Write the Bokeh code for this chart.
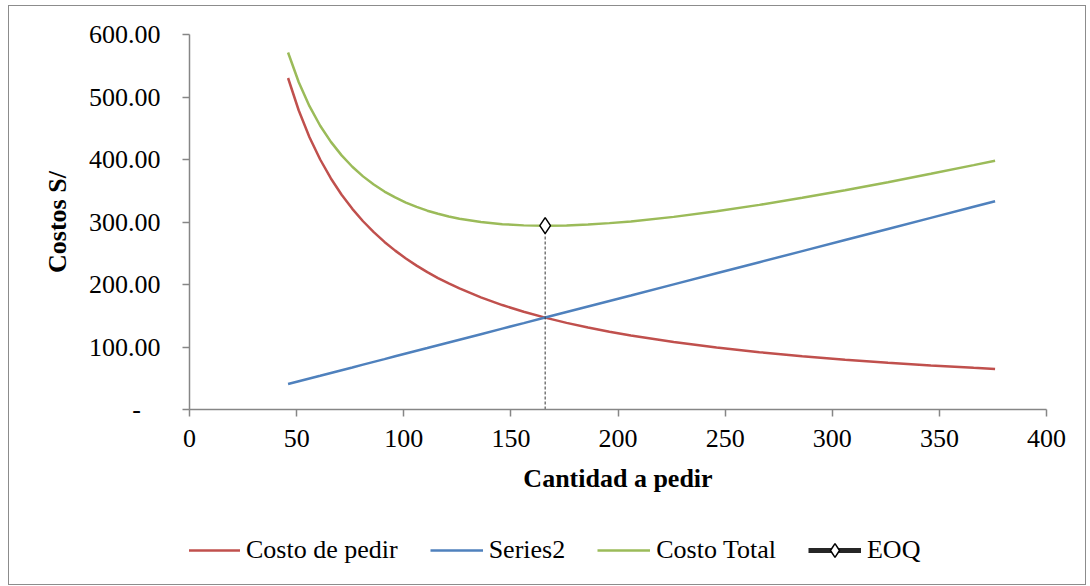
from bokeh.plotting import figure
from bokeh.embed import file_html
from bokeh.resources import INLINE
from bokeh.layouts import column
from bokeh.models import (ColumnDataSource, Legend, LegendItem, SingleIntervalTicker,
                          CustomJSTickFormatter, Range1d)

# ---- data ----
cantidad = [46, 51, 56, 61, 66, 71, 76, 81, 86, 91, 96, 101, 106, 111, 116, 121, 126,
            136, 146, 156, 166, 176, 186, 196, 206, 226, 246, 266, 286, 306, 326, 346,
            366, 376]
costo_pedir = [530.4, 478.4, 435.7, 400.0, 369.7, 343.7, 321.1, 301.2, 283.7, 268.1,
               254.2, 241.6, 230.2, 219.8, 210.3, 201.7, 193.7,
               179.4, 167.1, 156.4, 147.0, 138.6, 131.2, 124.5, 118.4, 108.0, 99.2,
               91.7, 85.3, 79.7, 74.8, 70.5, 66.7, 64.9]
series2 = [40.8, 45.2, 49.6, 54.0, 58.5, 62.9, 67.3, 71.8, 76.2, 80.6, 85.1, 89.5, 93.9,
           98.3, 102.8, 107.2, 111.6,
           120.5, 129.4, 138.2, 147.1, 155.9, 164.8, 173.7, 182.5, 200.2, 218.0, 235.7,
           253.4, 271.1, 288.8, 306.6, 324.3, 333.1]
costo_total = [571.2, 523.6, 485.3, 454.0, 428.2, 406.6, 388.4, 373.0, 359.9, 348.7,
               339.3, 331.1, 324.1, 318.1, 313.1, 308.9, 305.3,
               299.9, 296.5, 294.6, 294.1, 294.5, 296.0, 298.2, 300.9, 308.2, 317.2,
               327.4, 338.7, 350.8, 363.6, 377.1, 391.0, 398.0]
eoq_x = [166]
eoq_y = [294.1]
series_names = ["Costo de pedir", "Series2", "Costo Total", "EOQ"]
series_colors = ["#C0504D", "#4F81BD", "#9BBB59", "#262626"]

FONT = "Liberation Serif"
AXIS_COL = "#868686"

# ---------------- main chart ----------------
p = figure(width=1076, height=500, output_backend="svg", toolbar_location=None,
           x_range=Range1d(0, 400), y_range=Range1d(0, 600),
           min_border_left=180, min_border_top=28, min_border_right=39, min_border_bottom=97)
p.outline_line_color = None
p.xgrid.visible = False
p.ygrid.visible = False
p.background_fill_color = "white"
p.border_fill_color = "white"

src = ColumnDataSource(dict(x=cantidad, pedir=costo_pedir, s2=series2, total=costo_total))
p.line("x", "pedir", source=src, line_color=series_colors[0], line_width=2.5)
p.line("x", "s2", source=src, line_color=series_colors[1], line_width=2.5)
p.line("x", "total", source=src, line_color=series_colors[2], line_width=2.5)

eoq_src = ColumnDataSource(dict(x=eoq_x, y=eoq_y, y0=[0] * len(eoq_x)))
p.segment(x0="x", y0="y0", x1="x", y1="y", source=eoq_src, line_color="#333333",
          line_width=1, line_dash="3 2")
p.scatter("x", "y", source=eoq_src, marker="diamond", size=16,
          fill_color="white", line_color="black", line_width=1.5)

for ax in (p.xaxis[0], p.yaxis[0]):
    ax.axis_line_color = AXIS_COL
    ax.axis_line_width = 1.5
    ax.major_tick_line_color = AXIS_COL
    ax.major_tick_line_width = 1.5
    ax.major_tick_out = 7
    ax.major_tick_in = 0
    ax.minor_tick_line_color = None
    ax.major_label_text_font = FONT
    ax.major_label_text_font_size = "26px"
    ax.major_label_text_color = "black"
    ax.axis_label_text_font = FONT
    ax.axis_label_text_font_size = "26px"
    ax.axis_label_text_font_style = "bold"
    ax.axis_label_text_color = "black"

p.xaxis.ticker = SingleIntervalTicker(interval=50)
p.yaxis.ticker = SingleIntervalTicker(interval=100)
p.yaxis.formatter = CustomJSTickFormatter(
    code="return tick == 0 ? '-\u00a0\u00a0\u00a0' : tick.toFixed(2);")
p.xaxis.axis_label = "Cantidad a pedir"
p.yaxis.axis_label = "Costos S/"
p.xaxis.major_label_standoff = 13
p.xaxis.axis_label_standoff = 14
p.yaxis.major_label_standoff = 22
p.yaxis.axis_label_standoff = 14

# ---------------- legend strip ----------------
lg = figure(width=1076, height=78, output_backend="svg", toolbar_location=None,
            x_range=Range1d(0, 1), y_range=Range1d(0, 1),
            x_axis_location=None, y_axis_location=None,
            min_border_left=0, min_border_right=0, min_border_top=0, min_border_bottom=0)
lg.outline_line_color = None
lg.xgrid.visible = False
lg.ygrid.visible = False
lg.background_fill_color = "white"
lg.border_fill_color = "white"

# legend swatches: same styles, data placed outside the strip's visible range
off = ColumnDataSource(dict(x=[5, 6], y=[5, 6]))
r0 = lg.line("x", "y", source=off, line_color=series_colors[0], line_width=2.5)
r1 = lg.line("x", "y", source=off, line_color=series_colors[1], line_width=2.5)
r2 = lg.line("x", "y", source=off, line_color=series_colors[2], line_width=2.5)
r3 = lg.line("x", "y", source=off, line_color=series_colors[3], line_width=5)
r3m = lg.scatter("x", "y", source=off, marker="diamond", size=16,
                 fill_color="white", line_color="black", line_width=1.5)

legend = Legend(items=[
    LegendItem(label=series_names[0], renderers=[r0]),
    LegendItem(label=series_names[1], renderers=[r1]),
    LegendItem(label=series_names[2], renderers=[r2]),
    LegendItem(label=series_names[3], renderers=[r3, r3m]),
], orientation="horizontal", location=(-2, 17))
legend.label_text_font = FONT
legend.label_text_font_size = "26px"
legend.label_text_color = "black"
legend.glyph_width = 53
legend.glyph_height = 34
legend.label_standoff = 6
legend.spacing = 32
legend.padding = 0
legend.margin = 0
legend.border_line_color = None
legend.background_fill_alpha = 0
lg.add_layout(legend, "center")

layout = column(p, lg, spacing=0)
layout.styles = {"margin-left": "8px", "margin-top": "5px", "border": "1px solid #8c8c8c"}

open("out.html", "w").write(file_html(layout, INLINE))
